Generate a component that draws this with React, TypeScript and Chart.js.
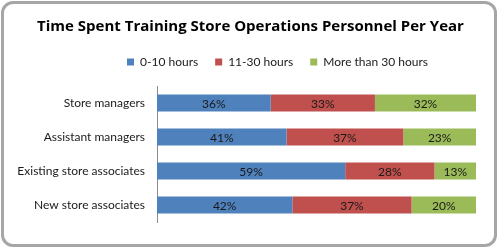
import { useEffect, useRef } from "react";
import { Chart, registerables } from "chart.js";

Chart.register(...registerables);

const categories = [
  "Store managers",
  "Assistant managers",
  "Existing store associates",
  "New store associates",
];
const seriesNames = ["0-10 hours", "11-30 hours", "More than 30 hours"];
const hours0to10 = [36, 41, 59, 42];
const hours11to30 = [33, 37, 28, 37];
const hoursOver30 = [32, 23, 13, 20];
const seriesColors = ["#4f81bd", "#c0504d", "#9bbb59"];
const titleText = "Time Spent Training Store Operations Personnel Per Year";

const FONT = "Lato";
const TITLE_FONT = "Open Sans";

export default function App() {
  const canvasRef = useRef<HTMLCanvasElement | null>(null);

  useEffect(() => {
    const canvas = canvasRef.current;
    if (!canvas) return;
    const rawSeries = [hours0to10, hours11to30, hoursOver30];
    const totals = categories.map((_, j) =>
      rawSeries.reduce((s, arr) => s + arr[j], 0)
    );

    const valueLabels = {
      id: "valueLabels",
      afterDatasetsDraw(chart: any) {
        const ctx = chart.ctx;
        ctx.save();
        ctx.font = `12px ${FONT}`;
        ctx.fillStyle = "#1a1a1a";
        ctx.textAlign = "center";
        ctx.textBaseline = "middle";
        chart.data.datasets.forEach((_ds: any, i: number) => {
          const meta = chart.getDatasetMeta(i);
          meta.data.forEach((el: any, j: number) => {
            const p = el.getProps(["x", "base", "y"], true);
            ctx.fillText(rawSeries[i][j] + "%", (p.x + p.base) / 2, p.y + 1);
          });
        });
        ctx.restore();
      },
    };

    // Nudge title and legend to the offsets used in the original layout
    const boxOffsets = {
      id: "boxOffsets",
      afterLayout(chart: any) {
        const t = chart.titleBlock;
        if (t) {
          t.left += 9;
          t.right += 9;
        }
        const l = chart.legend;
        if (l) {
          l.left += 36;
          l.right += 36;
          l.top -= 8;
          l.bottom -= 8;
        }
      },
    };

    const chart = new Chart(canvas, {
      type: "bar",
      data: {
        labels: categories,
        datasets: rawSeries.map((arr, i) => ({
          label: seriesNames[i],
          data: arr.map((v, j) => (v / totals[j]) * 100),
          backgroundColor: seriesColors[i],
          borderWidth: 0,
          categoryPercentage: 1,
          barPercentage: 0.5,
        })),
      },
      options: {
        indexAxis: "y",
        animation: false,
        responsive: false,
        maintainAspectRatio: false,
        layout: { padding: { left: 7, right: 24, top: 8, bottom: 28 } },
        plugins: {
          title: {
            display: true,
            text: titleText,
            color: "#000",
            font: { family: TITLE_FONT, size: 15, weight: "bold" },
            padding: { top: 10, bottom: 11 },
          },
          legend: {
            display: true,
            position: "top",
            labels: {
              boxWidth: 7,
              boxHeight: 7,
              padding: 17,
              color: "#1a1a1a",
              font: { family: FONT, size: 12 },
            },
          },
          tooltip: { enabled: false },
        },
        scales: {
          x: {
            display: false,
            stacked: true,
            min: 0,
            max: 100,
          },
          y: {
            stacked: true,
            grid: { display: false, drawTicks: false },
            border: { display: true, color: "#8c8c8c", width: 1 },
            ticks: {
              color: "#1a1a1a",
              padding: 12,
              font: { family: FONT, size: 12 },
            },
            afterFit: (scale: any) => {
              scale.width = 150;
            },
          },
        },
      },
      plugins: [valueLabels, boxOffsets],
    } as any);

    return () => chart.destroy();
  }, []);

  return (
    <div style={{ position: "absolute", left: 0, top: 0, width: 500, height: 250, background: "#fff" }}>
      <div
        style={{
          position: "absolute",
          left: 1,
          top: 1,
          width: 496,
          height: 246,
          border: "3px solid #a6a6a6",
          borderRadius: 12,
          boxSizing: "border-box",
        }}
      />
      <canvas
        ref={canvasRef}
        width={500}
        height={250}
        style={{ position: "absolute", left: 0, top: 0, width: 500, height: 250 }}
      />
    </div>
  );
}
